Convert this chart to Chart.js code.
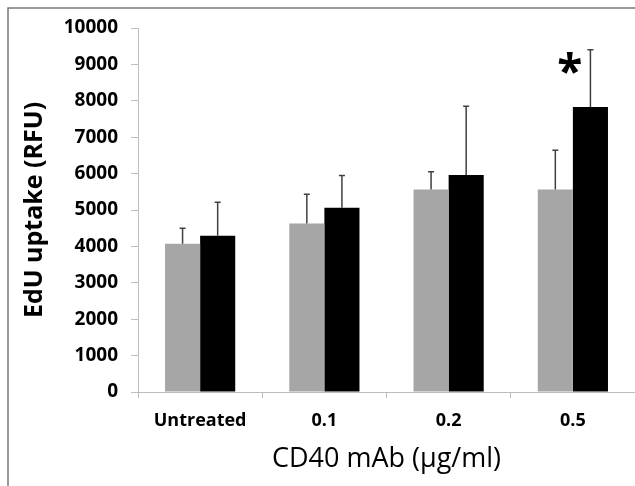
<!DOCTYPE html>
<html>
<head>
<meta charset="utf-8">
<script src="https://cdn.jsdelivr.net/npm/chart.js@4.4.1/dist/chart.umd.min.js"></script>
<style>
  body { margin: 0; background: #fff; }
  canvas { display: block; }
</style>
</head>
<body>
<canvas id="mycanvas" width="635" height="486"></canvas>
<script>
// values
var doses = ["Untreated", "0.1", "0.2", "0.5"];
var greyValues = [4070, 4630, 5560, 5560];
var greyErrors = [430, 800, 490, 1080];
var blackValues = [4290, 5060, 5960, 7830];
var blackErrors = [920, 890, 1890, 1570];
var yTicks = [0, 1000, 2000, 3000, 4000, 5000, 6000, 7000, 8000, 9000, 10000];
var starIndex = 3;
var starValue = 9000;

var frame = {
	id: "frame",
	beforeDraw: function(chart) {
		var c = chart.ctx;
		c.save();
		c.fillStyle = "#fff";
		c.fillRect(0, 0, chart.width, chart.height);
		c.strokeStyle = "#7a7a7a";
		c.lineWidth = 1.5;
		c.strokeRect(8, 8, chart.width + 20, chart.height + 20);
		c.restore();
	}
};

var errorBars = {
	id: "errorBars",
	afterDatasetsDraw: function(chart) {
		var c = chart.ctx;
		var y = chart.scales.y;
		c.save();
		c.strokeStyle = "#404040";
		c.lineWidth = 1.5;
		chart.data.datasets.forEach(function(ds, di) {
			var meta = chart.getDatasetMeta(di);
			meta.data.forEach(function(bar, i) {
				var top = y.getPixelForValue(ds.data[i] + ds.errors[i]);
				c.beginPath();
				c.moveTo(bar.x, bar.y);
				c.lineTo(bar.x, top);
				c.moveTo(bar.x - 3, top);
				c.lineTo(bar.x + 3, top);
				c.stroke();
			});
		});
		// significance mark
		var x = chart.scales.x.getPixelForValue(starIndex) - 3;
		c.fillStyle = "#000";
		c.font = "bold 46px 'Open Sans'";
		c.textAlign = "center";
		c.textBaseline = "middle";
		c.fillText("*", x, y.getPixelForValue(starValue) + 10);
		c.restore();
	}
};

var ctx = document.getElementById("mycanvas");

var Graph = new Chart(ctx, {
	type: "bar",
	data: {
		labels: doses,
		datasets: [
			{
				label: "grey",
				backgroundColor: "#a6a6a6",
				data: greyValues,
				errors: greyErrors
			},
			{
				label: "black",
				backgroundColor: "#000000",
				data: blackValues,
				errors: blackErrors
			}
		]
	},
	options: {
		responsive: false,
		animation: false,
		layout: { padding: { top: 28, left: 0, right: 0, bottom: 0 } },
		categoryPercentage: 0.565,
		barPercentage: 1,
		plugins: {
			legend: { display: false },
			tooltip: { enabled: false }
		},
		scales: {
			x: {
				afterFit: function(s) { s.height = 94; },
				grid: { drawOnChartArea: false, tickLength: 6, color: "#bdbdbd" },
				border: { color: "#bdbdbd", width: 1 },
				ticks: {
					color: "#000",
					padding: 12,
					font: { family: "'Open Sans'", size: 18, weight: "bold" }
				},
				title: {
					display: true,
					text: "CD40 mAb (µg/ml)",
					color: "#000",
					padding: { top: 0, bottom: 10 },
					font: { family: "'Open Sans'", size: 27, weight: "normal" }
				}
			},
			y: {
				min: 0,
				max: 10000,
				afterFit: function(s) { s.width = 138; },
				afterBuildTicks: function(s) {
					s.ticks = yTicks.map(function(v) { return { value: v }; });
				},
				grid: { drawOnChartArea: false, tickLength: 7, color: "#bdbdbd" },
				border: { color: "#bdbdbd", width: 1 },
				ticks: {
					color: "#000",
					padding: 13,
					callback: function(v) { return String(v); },
					font: { family: "'Open Sans'", size: 19, weight: "bold" }
				},
				title: {
					display: true,
					text: "EdU uptake (RFU)",
					color: "#000",
					padding: { top: 20, bottom: 0 },
					font: { family: "'Open Sans'", size: 25, weight: "bold" }
				}
			}
		}
	},
	plugins: [frame, errorBars]
});
</script>
</body>
</html>
